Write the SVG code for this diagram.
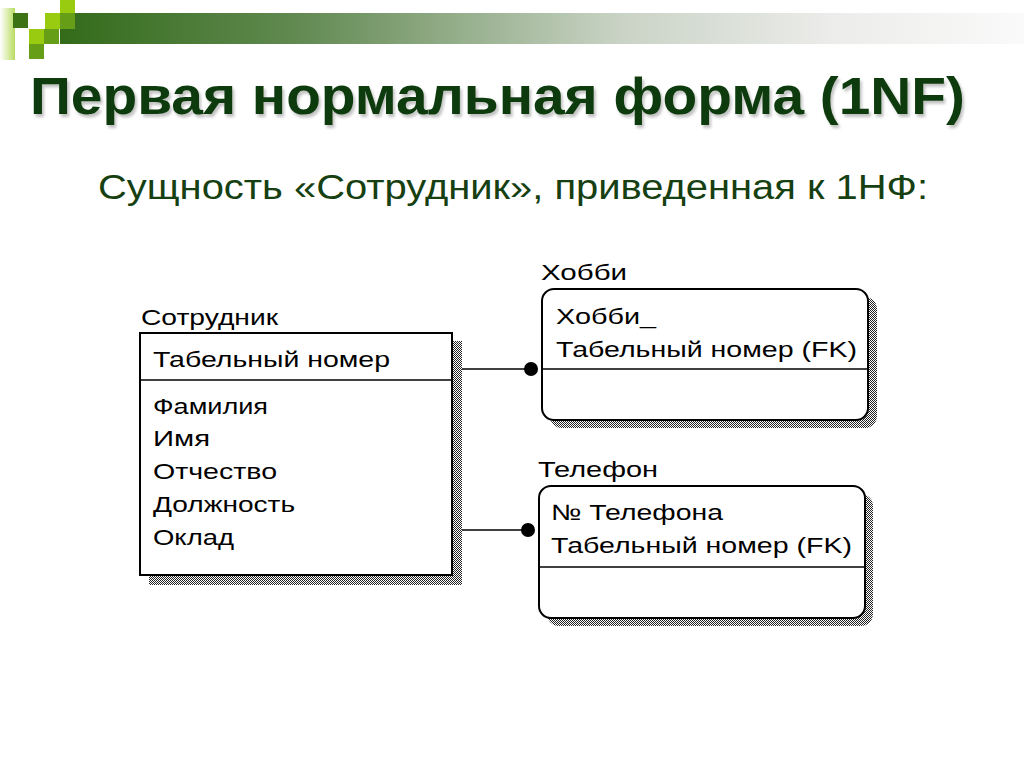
<svg xmlns="http://www.w3.org/2000/svg" width="1024" height="767" viewBox="0 0 1024 767">
<defs>
<linearGradient id="bar" x1="0" y1="0" x2="1" y2="0">
<stop offset="0" stop-color="#336b1a"/>
<stop offset="0.25" stop-color="#628a52"/>
<stop offset="0.58" stop-color="#c9d3c5"/>
<stop offset="0.8" stop-color="#ececea"/>
<stop offset="1" stop-color="#fafafa"/>
</linearGradient>
<linearGradient id="leftg" x1="0" y1="0" x2="1" y2="0">
<stop offset="0" stop-color="#ffffff"/>
<stop offset="1" stop-color="#b8dc60"/>
</linearGradient>
<pattern id="chk" width="2" height="2" patternUnits="userSpaceOnUse">
<rect width="2" height="2" fill="#ffffff"/>
<rect width="1" height="1" fill="#222"/>
<rect x="1" y="1" width="1" height="1" fill="#222"/>
</pattern>
<filter id="tsh" x="-5%" y="-20%" width="110%" height="150%">
<feGaussianBlur in="SourceAlpha" stdDeviation="1.5"/>
<feOffset dx="2" dy="3" result="b"/>
<feComponentTransfer><feFuncA type="linear" slope="0.25"/></feComponentTransfer>
<feMerge><feMergeNode/><feMergeNode in="SourceGraphic"/></feMerge>
</filter>
</defs>
<style>
.box{fill:#ffffff;stroke:#000;stroke-width:2}
.sep{stroke:#000;stroke-width:1.5}
.t{font-family:"Liberation Sans",Arial,sans-serif;font-size:22px;fill:#000}
.conn{stroke:#000;stroke-width:1.5;fill:none}
</style>
<rect width="1024" height="767" fill="#ffffff"/>
<g id="header">
<rect x="0" y="8" width="15" height="52" fill="url(#leftg)"/>
<rect x="60" y="13" width="964" height="31" fill="url(#bar)"/>
<rect x="60" y="0" width="15" height="13" fill="#99cc11"/>
<rect x="45" y="13" width="15" height="16" fill="#99cc11"/>
<rect x="60" y="13" width="15" height="16" fill="#669e18"/>
<rect x="13" y="13" width="15" height="15" fill="#3b7315"/>
<rect x="29" y="29" width="15" height="15" fill="#99cc11"/>
<rect x="44" y="29" width="15" height="15" fill="#669e18"/>
<rect x="29" y="44" width="15" height="15" fill="#669e18"/>
</g>
<text x="30" y="114" font-family="Liberation Sans, Arial, sans-serif" font-size="51" font-weight="bold" fill="#0f3b0d" filter="url(#tsh)" textLength="935" lengthAdjust="spacingAndGlyphs">Первая нормальная форма (1NF)</text>
<text x="98" y="199" font-family="Liberation Sans, Arial, sans-serif" font-size="35" fill="#163f12" textLength="830" lengthAdjust="spacingAndGlyphs">Сущность «Сотрудник», приведенная к 1НФ:</text>
<g id="connectors">
<line class="conn" x1="462" y1="369" x2="530" y2="369"/>
<circle cx="531" cy="369" r="7" fill="#000"/>
<line class="conn" x1="462" y1="530" x2="527" y2="530"/>
<circle cx="528" cy="530" r="7" fill="#000"/>
</g>
<g id="employee">
<text class="t" x="141" y="325" textLength="137" lengthAdjust="spacingAndGlyphs">Сотрудник</text>
<rect x="149" y="341" width="313" height="244" fill="url(#chk)"/>
<rect class="box" x="140" y="333" width="312" height="242"/>
<line class="sep" x1="140" y1="380" x2="452" y2="380"/>
<text class="t" x="153" y="367" textLength="237" lengthAdjust="spacingAndGlyphs">Табельный номер</text>
<text class="t" x="153" y="414" textLength="115" lengthAdjust="spacingAndGlyphs">Фамилия</text>
<text class="t" x="153" y="446" textLength="57" lengthAdjust="spacingAndGlyphs">Имя</text>
<text class="t" x="153" y="479" textLength="124" lengthAdjust="spacingAndGlyphs">Отчество</text>
<text class="t" x="153" y="512" textLength="142" lengthAdjust="spacingAndGlyphs">Должность</text>
<text class="t" x="153" y="545" textLength="81" lengthAdjust="spacingAndGlyphs">Оклад</text>
</g>
<g id="hobby">
<text class="t" x="541" y="280" textLength="86" lengthAdjust="spacingAndGlyphs">Хобби</text>
<rect x="550" y="297" width="327" height="131" rx="12" fill="url(#chk)"/>
<rect class="box" x="542" y="289" width="326" height="131" rx="12"/>
<line class="sep" x1="542" y1="369" x2="868" y2="369"/>
<text class="t" x="556" y="324" textLength="100" lengthAdjust="spacingAndGlyphs">Хобби_</text>
<text class="t" x="556" y="357" textLength="301" lengthAdjust="spacingAndGlyphs">Табельный номер (FK)</text>
</g>
<g id="phone">
<text class="t" x="538" y="477" textLength="120" lengthAdjust="spacingAndGlyphs">Телефон</text>
<rect x="547" y="494" width="326" height="132" rx="12" fill="url(#chk)"/>
<rect class="box" x="539" y="486" width="326" height="132" rx="12"/>
<line class="sep" x1="539" y1="567" x2="865" y2="567"/>
<text class="t" x="551" y="520" textLength="172" lengthAdjust="spacingAndGlyphs">№ Телефона</text>
<text class="t" x="551" y="553" textLength="301" lengthAdjust="spacingAndGlyphs">Табельный номер (FK)</text>
</g>
</svg>
